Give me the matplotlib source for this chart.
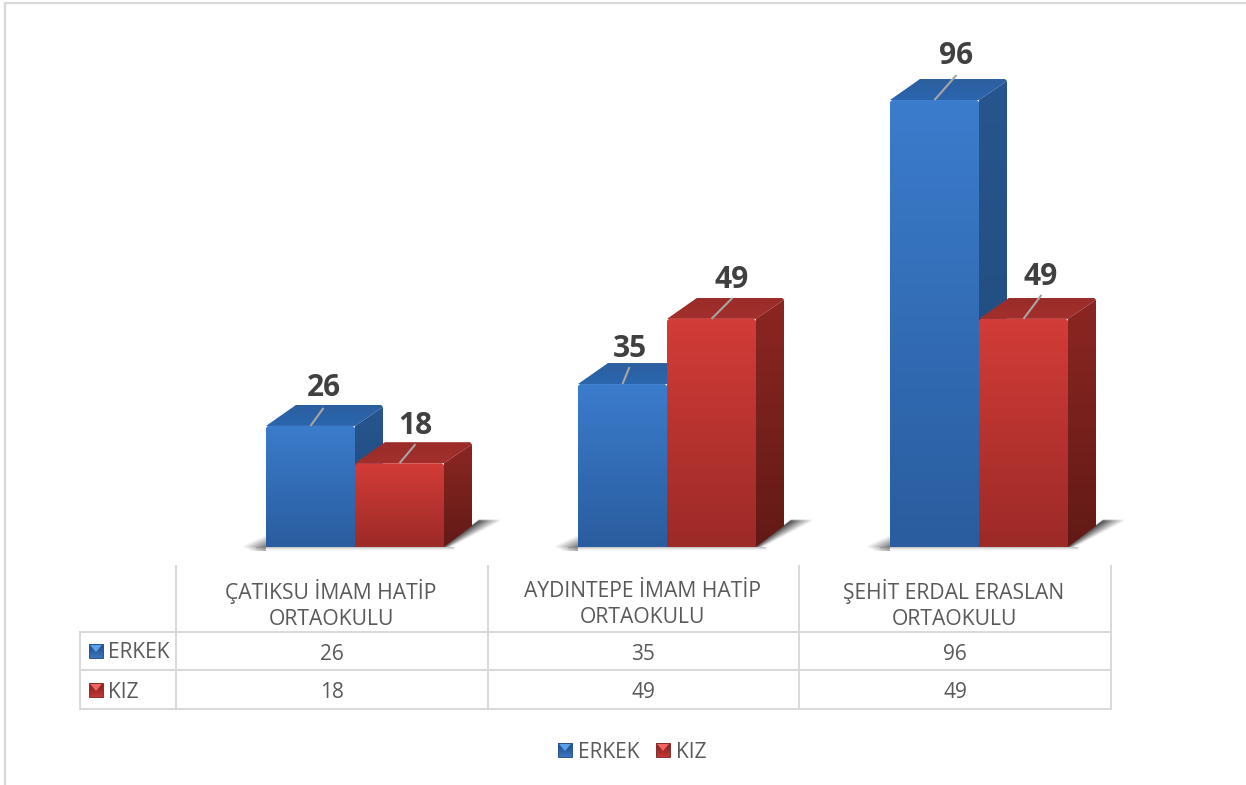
import numpy as np
import matplotlib
matplotlib.use("Agg")
import matplotlib.pyplot as plt
from matplotlib.colors import to_rgba
from matplotlib.patches import Polygon, Rectangle

plt.rcParams["font.family"] = ["Open Sans", "DejaVu Sans"]

# --- Data ---
schools = ["ÇATIKSU İMAM HATİP\nORTAOKULU", "AYDINTEPE İMAM HATİP\nORTAOKULU", "ŞEHİT ERDAL ERASLAN\nORTAOKULU"]
series_names = ["ERKEK", "KIZ"]
erkek = [26, 35, 96]
kiz = [18, 49, 49]

# --- Layout (pixels of the 1246x785 picture) ---
W, H = 1246, 785
PX_X = 312.0      # pixels per category
PX_Y = 4.656      # pixels per student
BASE_X = 355      # pixel of first category centre
BASE_Y = 547      # pixel of value 0
BAR_W = 89 / PX_X
DEPTH_X = 28 / PX_X
DEPTH_Y = 21 / PX_Y

# leader end offset and label offset from the top-front centre of each bar
LEADERS = {"ERKEK": [(13, -18), (7, -17), (22, -25)], "KIZ": [(16, -19), (21, -21), (18, -24)]}
LABELS = {"ERKEK": [(13, -38), (7, -35), (22, -44)], "KIZ": [(16, -37), (20, -39), (17, -42)]}

BLUE = dict(front=("#3B7CCC", "#2A5D9F"), side=("#27558F", "#1E4979"), top=("#2C5F9F", "#2A66AE"))
RED = dict(front=("#D33C38", "#9C2A27"), side=("#8C2622", "#621A16"), top=("#9A2C29", "#A32F2B"))

TEXT = "#595959"
GRID = "#D9D9D9"

fig = plt.figure(figsize=(W / 100, H / 100), dpi=100, facecolor="white")
ax = fig.add_axes([0, 0, 1, 1])
ax.axis("off")


def grad_poly(target, verts, c0, c1, z):
    # vertical gradient filled polygon: an image clipped to the shape
    verts = np.array(verts)
    t = np.linspace(0, 1, 64)
    img = (np.outer(1 - t, to_rgba(c0)) + np.outer(t, to_rgba(c1)))[:, np.newaxis, :]
    x0, x1 = verts[:, 0].min(), verts[:, 0].max()
    y0, y1 = verts[:, 1].min(), verts[:, 1].max()
    im = target.imshow(img, extent=(x0, x1, y0, y1), origin="upper", aspect="auto",
                       interpolation="bilinear", zorder=z)
    poly = Polygon(verts, closed=True, transform=target.transData, facecolor="none", edgecolor="none")
    target.add_patch(poly)
    im.set_clip_path(poly)


def draw_bar(x, v, pal, z):
    l, r = x, x + BAR_W
    cx = 2 / PX_X
    cy = 2 / PX_Y
    grad_poly(ax, [(l, v), (r, v), (r + DEPTH_X, v + DEPTH_Y - cy), (r + DEPTH_X - cx, v + DEPTH_Y),
                   (l + DEPTH_X + cx, v + DEPTH_Y)],
              pal["top"][0], pal["top"][1], z)
    grad_poly(ax, [(r, 0), (r + DEPTH_X, DEPTH_Y), (r + DEPTH_X, v + DEPTH_Y - cy), (r, v)],
              pal["side"][0], pal["side"][1], z)
    grad_poly(ax, [(l, 0), (r, 0), (r, v - cy), (r - cx, v), (l + cx, v), (l, v - cy)],
              pal["front"][0], pal["front"][1], z + 0.1)


def draw_shadow(x, z):
    # soft floor shadow on both sides of one group, worked out on a pixel grid
    l = x - BAR_W
    r = x + BAR_W
    # right side: follows the slanted foot of the bar, wider towards the back
    u, w = np.meshgrid(np.arange(0, 56.0, 0.5), np.arange(0, 28.0, 0.5))
    edge = w * 28 / 21
    width = 7 + 17 * w / 27
    fade = np.clip(1 - (u - edge) / width, 0, 1)
    right = 0.95 * fade ** 1.1 * (u >= edge - 1) * np.clip((27.5 - w) / 1.5, 0, 1)
    img = np.zeros(u.shape + (4,))
    img[..., :3] = 0.28
    img[..., 3] = right
    ax.imshow(img, extent=(r, r + 56 / PX_X, 0, 28 / PX_Y), origin="lower", aspect="auto",
              interpolation="bilinear", zorder=z)
    # left side: small tail that narrows away from the bar
    u, w = np.meshgrid(np.arange(0, 24.0), np.arange(-4.0, 12.0))
    reach = np.clip(u / 22, 0, 1)
    left = 0.7 * reach * np.clip(1 - np.abs(w) / (1 + 10 * reach), 0, 1)
    img = np.zeros(u.shape + (4,))
    img[..., :3] = 0.3
    img[..., 3] = left
    ax.imshow(img, extent=(l - 24 / PX_X, l, -4 / PX_Y, 12 / PX_Y), origin="lower", aspect="auto",
              interpolation="bilinear", zorder=z)
    # strip just under the bars
    grad_poly(ax, [(l - 10 / PX_X, 0), (r + 10 / PX_X, 0), (r + 10 / PX_X, -4 / PX_Y), (l - 10 / PX_X, -4 / PX_Y)],
              (0.45, 0.45, 0.45, 0.5), (0.85, 0.85, 0.85, 0.0), z)


for i in range(len(schools)):
    draw_shadow(i, 1)
    for j, (name, vals, pal) in enumerate(zip(series_names, [erkek, kiz], [BLUE, RED])):
        v = vals[i]
        x = i - BAR_W if j == 0 else i
        draw_bar(x, v, pal, 2 + j)
        cx = x + BAR_W / 2
        lx, ly = LEADERS[name][i]
        ax.plot([cx, cx + lx / PX_X], [v, v - ly / PX_Y], color="#A6A6A6", lw=1.5, zorder=5,
                solid_capstyle="butt")
        tx, ty = LABELS[name][i]
        ax.text(cx + tx / PX_X, v - ty / PX_Y, str(v), ha="center", va="center", fontsize=21.5,
                fontweight="bold", color="#404040", zorder=6)

ax.set_xlim(-BASE_X / PX_X, (W - BASE_X) / PX_X)
ax.set_ylim((BASE_Y - H) / PX_Y, BASE_Y / PX_Y)

# --- Data table and legend, in picture pixels ---
tb = fig.add_axes([0, 0, 1, 1])
tb.axis("off")
tb.patch.set_alpha(0)

# outer frame of the chart
tb.plot([5, 5, W], [H, 3, 3], color=GRID, lw=1.6, solid_joinstyle="miter")

col_x = [176, 488, 799, 1111]
row_y = [632, 670, 709]
for y in row_y:
    tb.plot([80, col_x[-1]], [y, y], color=GRID, lw=1.4)
for x in col_x:
    tb.plot([x, x], [566, row_y[-1]], color=GRID, lw=1.4)
tb.plot([80, 80], [row_y[0], row_y[-1]], color=GRID, lw=1.4)


def legend_key(x, y, pal):
    # small bevelled square, 14 px wide
    s = 14
    grad_poly(tb, [(x, y), (x + s, y), (x + s, y + s), (x, y + s)], pal[0], pal[1], 3)
    tb.add_patch(Polygon([(x + 1, y + 1), (x + s - 1, y + 1), (x + s / 2, y + s / 2 + 1)],
                         facecolor=pal[2], edgecolor="none", zorder=4))
    tb.add_patch(Rectangle((x, y), s, s, facecolor="none", edgecolor=pal[3], lw=0.7, zorder=5))


KEY_BLUE = ("#3B74BD", "#1F4A80", "#5CA0EA", "#2A5488")
KEY_RED = ("#C23835", "#7D1F1C", "#F06461", "#85302D")

for i, name in enumerate(schools):
    cx = (col_x[i] + col_x[i + 1]) / 2 - 1
    tb.text(cx, 604.5, name, ha="center", va="center", fontsize=15.2, color=TEXT, linespacing=1.36)
    tb.text(cx + 1, 655, str(erkek[i]), ha="center", va="center", fontsize=15, color=TEXT)
    tb.text(cx + 1, 693, str(kiz[i]), ha="center", va="center", fontsize=15, color=TEXT)

legend_key(89, 644, KEY_BLUE)
legend_key(89, 683, KEY_RED)
tb.text(108, 653, series_names[0], ha="left", va="center", fontsize=15, color=TEXT)
tb.text(108, 692, series_names[1], ha="left", va="center", fontsize=15, color=TEXT)

legend_key(558, 743, KEY_BLUE)
legend_key(656, 743, KEY_RED)
tb.text(578, 752, series_names[0], ha="left", va="center", fontsize=15, color=TEXT)
tb.text(676, 752, series_names[1], ha="left", va="center", fontsize=15, color=TEXT)

tb.set_xlim(0, W)
tb.set_ylim(H, 0)

fig.savefig("out.png", dpi=100)
